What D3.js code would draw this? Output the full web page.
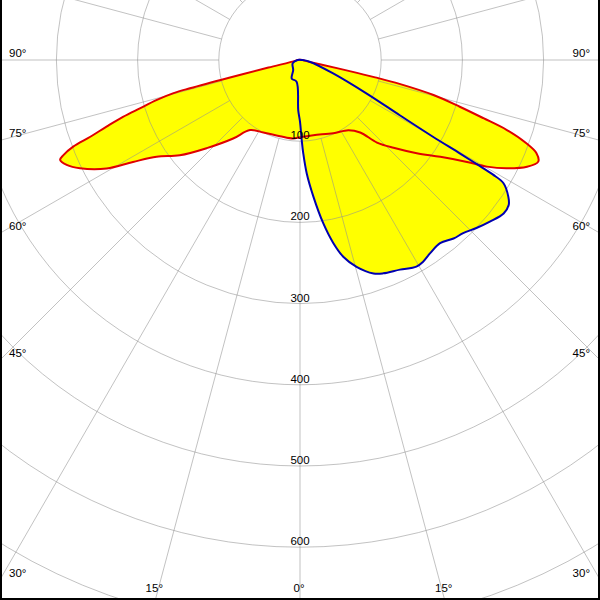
<!DOCTYPE html>
<html>
<head>
<meta charset="utf-8">
<script src="https://cdn.jsdelivr.net/npm/d3@7"></script>
<style>
  html, body { margin: 0; padding: 0; background: #fff; }
  svg { display: block; }
  text { font-family: "Liberation Sans", Arial, sans-serif; font-size: 11.5px; fill: #000; }
</style>
</head>
<body>
<svg id="chart" width="600" height="600"></svg>
<script>
// ---- data (angle in degrees from nadir, + = right; intensity values) ----
const redAngles = [-90, -80, -76.5, -76.0, -75.6, -75.3, -74.4, -73.2, -72.2, -71.0, -69.9, -69.1, -68.1, -67.4, -65.8, -63.8, -60.7, -58.6, -56.0, -51.6, -46.6, -40.4, -35.5, -26.8, -14.7, -4.9, 0, 10.1, 24.4, 34.6, 39.7, 43.0, 46.8, 51.4, 55.4, 58.6, 60.3, 62.3, 64.8, 66.9, 68.5, 69.8, 71.3, 72.4, 73.7, 75.3, 76.5, 77.0, 77.4, 78.0, 80, 90];
const redValues = [3, 6, 40, 90, 140, 161, 183, 206, 229, 252, 275, 299, 314, 320, 315, 302, 273, 241, 213, 189, 158, 127, 106, 100, 97, 97, 95, 94, 99, 105, 116, 139, 158, 184, 210, 241, 265, 287, 309, 319, 313, 297, 269, 237, 205, 170, 126, 95, 60, 25, 8, 3];

const blueAngles = [-90, -65, -34, -24, -9, -2, 0, 1.2, 2.0, 3.4, 5.6, 8.1, 10.3, 12.4, 15.3, 19.0, 21.3, 25.5, 29.4, 31.4, 33.9, 37.4, 40.7, 43.3, 46.4, 49.6, 53.0, 55.2, 56.7, 58.8, 59.3, 59.5, 59.7, 60.0, 61.0, 63.3, 68, 80, 90];
const blueValues = [3, 10, 15, 25, 27, 62, 76, 98, 115, 140, 169, 203, 229, 248, 264, 278, 282, 286, 292, 291, 287, 284, 290, 293, 300, 307, 314, 313, 307, 293, 276, 254, 229, 189, 141, 92, 44, 12, 3];

const ringValues = [100, 200, 300, 400, 500, 600, 700, 800];
const ringLabels = ["100", "200", "300", "400", "500", "600"];
const rayAngles = d3.range(0, 360, 15);
const angleLabelValues = [-90, -75, -60, -45, -30, -15, 0, 15, 30, 45, 60, 75, 90];

// ---- layout ----
const W = 600, H = 600;
const cx = 300, cy = 60;
const r = d3.scaleLinear().domain([0, 100]).range([0, 81.2]);
const toRad = a => Math.PI - a * Math.PI / 180;   // nadir-based angle -> d3 radial angle

const svg = d3.select("#chart");
svg.append("defs").append("clipPath").attr("id", "clip")
  .append("rect").attr("x", 0).attr("y", 0).attr("width", W).attr("height", H);

const root = svg.append("g").attr("clip-path", "url(#clip)");
const g = root.append("g").attr("transform", `translate(${cx},${cy})`);

const radial = d3.lineRadial()
  .angle(d => toRad(d[0]))
  .radius(d => r(d[1]))
  .curve(d3.curveCatmullRomClosed.alpha(0.5));

const red = redAngles.map((a, i) => [a, redValues[i]]);
const blue = blueAngles.map((a, i) => [a, blueValues[i]]);

// fills
g.append("path").attr("d", radial(red)).attr("fill", "#ffff00").attr("stroke", "none");
g.append("path").attr("d", radial(blue)).attr("fill", "#ffff00").attr("stroke", "none");

// grid (drawn over fills, semi-transparent)
const grid = g.append("g").attr("fill", "none").attr("stroke", "#909090").attr("stroke-opacity", 0.55).attr("stroke-width", 1);
grid.selectAll("circle").data(ringValues).join("circle")
  .attr("cx", 0).attr("cy", 0).attr("r", d => r(d));
grid.selectAll("line").data(rayAngles).join("line")
  .attr("x1", d => d3.pointRadial(toRad(d), r(100))[0])
  .attr("y1", d => d3.pointRadial(toRad(d), r(100))[1])
  .attr("x2", d => d3.pointRadial(toRad(d), r(900))[0])
  .attr("y2", d => d3.pointRadial(toRad(d), r(900))[1]);

// outlines
g.append("path").attr("d", radial(red)).attr("fill", "none").attr("stroke", "#e00000").attr("stroke-width", 2);
g.append("path").attr("d", radial(blue)).attr("fill", "none").attr("stroke", "#0000b0").attr("stroke-width", 2);

// ring labels
g.selectAll("text.ring").data(ringLabels).join("text")
  .attr("class", "ring")
  .attr("x", 0)
  .attr("y", d => r(+d) - 2)
  .attr("text-anchor", "middle")
  .attr("fill", "#000")
  .text(d => d);

// angle labels at frame exits
angleLabelValues.forEach(a => {
  const rad = a * Math.PI / 180;
  const s = Math.sin(rad), c = Math.cos(rad);
  let x, y, anchor;
  if (Math.abs(s) > 1e-9) {
    const t = (a < 0 ? cx : (W - cx)) / Math.abs(s);
    const ey = cy + t * c;
    if (ey <= H) {
      x = a < 0 ? 9 : W - 10;
      y = ey - 3;
      anchor = a < 0 ? "start" : "end";
    }
  }
  if (x === undefined) {
    const t = (H - cy) / c;
    x = cx + t * s - 1;
    y = 592;
    anchor = "middle";
  }
  svg.append("text").attr("x", x).attr("y", y).attr("text-anchor", anchor).attr("fill", "#000").text(Math.abs(a) + "°");
});

// frame (left, right, bottom)
svg.append("path")
  .attr("d", `M1,0 V599 H599 V0`)
  .attr("fill", "none").attr("stroke", "#000").attr("stroke-width", 2);
</script>
</body>
</html>
